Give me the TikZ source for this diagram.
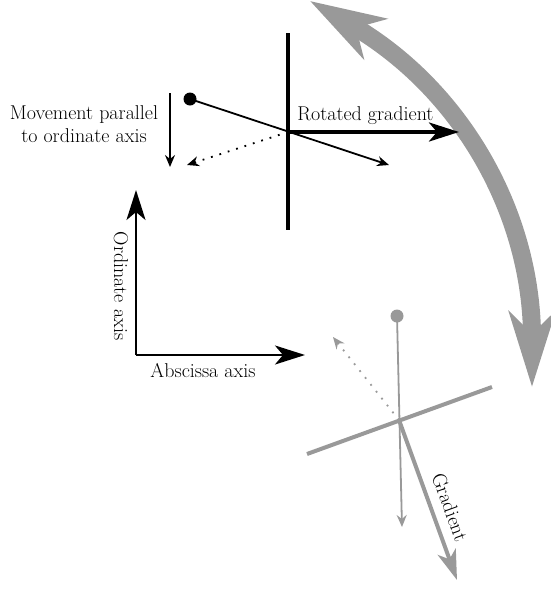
\documentclass[tikz,border=0pt]{standalone}
\usetikzlibrary{arrows.meta}
\definecolor{gr}{RGB}{153,153,153}
\begin{document}
\begin{tikzpicture}[x=1pt,y=1pt,
  font=\fontsize{20}{22.7}\selectfont,
  thickline/.style={line width=4pt},
  thinline/.style={line width=1.8pt},
  bigarrow/.style={line width=4pt,-{Stealth[length=30pt,width=19pt,inset=8pt]}},
  smallarrow/.style={line width=1.8pt,-{Stealth[length=12pt,width=10pt,inset=4pt]}},
  dotarrow/.style={line width=1.8pt,dash pattern=on 1.8pt off 7pt,-{Stealth[length=12pt,width=10pt,inset=4pt]}},
  arcarrow/.style={line width=18pt,{Stealth[length=75pt,width=46pt,inset=22pt]}-{Stealth[length=75pt,width=46pt,inset=22pt]}},
  dotnode/.style={circle,inner sep=0pt,minimum size=13pt}]
\useasboundingbox (0,0) rectangle (550,-590);

% coordinates
\coordinate (aa) at (310,-1);
\coordinate (ab) at (532,-387);
\coordinate (tc) at (288,-132);
\coordinate (vtop) at (288,-33);
\coordinate (vbot) at (288,-230);
\coordinate (bt) at (389,-165);
\coordinate (dt) at (187,-165);
\coordinate (rg) at (459,-132);
\coordinate (ma) at (170,-93);
\coordinate (mb) at (170,-167);
\coordinate (o) at (136,-355);
\coordinate (oy) at (136,-190);
\coordinate (ox) at (305,-355);
\coordinate (bc) at (399,-420);
\coordinate (la) at (307,-454);
\coordinate (lb) at (492,-387);
\coordinate (gt) at (402,-527);
\coordinate (gdt) at (333,-337);
\coordinate (gg) at (457,-580);

% big rotation arc
\draw[arcarrow,gr] (aa) to[bend left=30] (ab);

% bottom (gray) structure
\draw[thickline,gr] (la) -- (lb);
\node[dotnode,fill=gr] (gd) at (397,-316) {};
\draw[smallarrow,gr] (gd.center) -- (gt);
\draw[dotarrow,gr] (bc) -- (gdt);
\draw[bigarrow,gr] (bc) -- (gg);
\node[rotate=-70] (lgr) at (450,-507) {Gradient};

% top (black) structure
\draw[thickline] (vtop) -- (vbot);
\node[dotnode,fill=black] (bd) at (190,-99) {};
\draw[smallarrow] (bd.center) -- (bt);
\draw[dotarrow] (tc) -- (dt);
\draw[bigarrow] (tc) -- (rg);
\node[anchor=base] (lrg) at (365.5,-120) {Rotated gradient};

% movement arrow
\draw[smallarrow] (ma) -- (mb);
\node[align=center] (lmv) at (84,-124) {Movement parallel\\to ordinate axis};

% axes
\draw[bigarrow,line width=2.4pt] (o) -- (oy);
\draw[bigarrow,line width=2.4pt] (o) -- (ox);
\node[rotate=-90] (lord) at (121,-286) {Ordinate axis};
\node[anchor=base] (labs) at (203,-377) {Abscissa axis};
\end{tikzpicture}
\end{document}
